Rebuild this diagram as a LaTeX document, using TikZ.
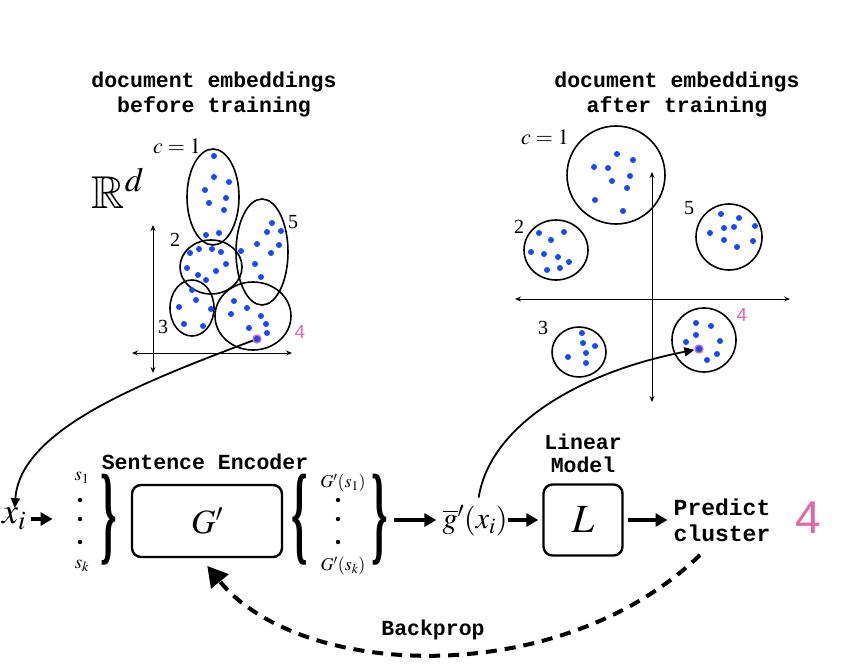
\documentclass[tikz,border=0pt]{standalone}
\usepackage{graphicx}
\usepackage{mathptmx}
\usepackage{amssymb}
\usepackage{fontspec}
\setmainfont{Liberation Serif}
\setmonofont{Liberation Mono}
\newfontfamily\helv{Liberation Sans}
\usetikzlibrary{arrows.meta}
\definecolor{dotblue}{RGB}{22,72,255}
\definecolor{clpink}{RGB}{232,100,170}
\tikzset{
  embtitle/.style={font=\fontsize{21.5}{25}\selectfont\ttfamily\bfseries, align=center},
  blob/.style={line width=1.6pt},
  ax/.style={line width=0.9pt, {Stealth[length=6pt,width=5pt]}-{Stealth[length=6pt,width=5pt]}},
  flow/.style={line width=3.2pt, -{Triangle[length=12pt,width=13pt]}},
  curvelink/.style={line width=1.8pt, -{Triangle[length=10pt,width=9pt]}},
  modelbox/.style={draw, line width=2.4pt, rounded corners=9pt},
  hit/.style={circle, draw=clpink, fill=dotblue, line width=1.3pt, minimum size=8pt, inner sep=0pt},
  sdot/.style={circle, fill=black, minimum size=4.4pt, inner sep=0pt},
  brc/.style={font=\fontsize{20}{24}\selectfont\bfseries, inner sep=0pt},
}
\newcommand{\bluedots}[1]{\foreach \px/\py in {#1} \fill[dotblue] (\px,\py) circle (3pt);}
\newcommand{\tallbrace}[1]{\scalebox{2.1}[5.5]{#1}}

\begin{document}
\begin{tikzpicture}[x=1pt,y=-1pt]
    \useasboundingbox (0,0) rectangle (842,667);
    % titles
    \node[embtitle] (titleB) at (214,94) {document embeddings\\before training};
    \node[embtitle] (titleA) at (677,94) {document embeddings\\after training};

    % before training
    \node[font=\fontsize{46}{50}\selectfont] (Rd) at (118,188) {$\mathbb{R}^d$};
    \draw[ax] (153,225) -- (153,373);
    \draw[ax] (132,353) -- (292,353);
    \draw[blob] (213,197) ellipse [x radius=26pt, y radius=48pt];
    \draw[blob] (262,252) ellipse [x radius=26pt, y radius=53pt];
    \draw[blob] (211,267) ellipse [x radius=31pt, y radius=27pt];
    \draw[blob] (192,308) ellipse [x radius=22pt, y radius=28pt];
    \draw[blob] (253,316) ellipse [x radius=38pt, y radius=34pt];
    \bluedots{214/156, 214/177, 229/182, 205/190, 226/198, 209/203, 224/210, 206/235, 219/233}
    \bluedots{190/253, 199/249, 212/249, 221/252, 187/268, 198/275, 206/280, 216/271, 226/264, 192/290}
    \bluedots{272/223, 267/232, 281/231, 257/244, 279/245, 241/251, 271/253, 255/264, 261/277}
    \bluedots{196/300, 179/307, 211/309, 184/324, 203/326}
    \bluedots{234/301, 247/308, 231/314, 261/316, 249/328, 266/324, 267/333}
    \node[font=\fontsize{22}{24}\selectfont] (cB) at (177,146) {$c=1$};
    \foreach \n/\lx/\ly in {2/175/240, 3/163/327, 5/293/222}
    \node[font=\fontsize{20}{24}\selectfont] (lblB\n) at (\lx,\ly) {\n};
    \node[font=\fontsize{19}{22}\selectfont\helv, text=clpink] (lblB4) at (300,332) {4};
    \node[hit] (hitL) at (257,339) {};

    % after training
    \draw[ax] (652,172) -- (652,402);
    \draw[ax] (515,299) -- (790,299);
    \draw[blob] (616,175) circle (49pt);
    \draw[blob] (556,250) ellipse [x radius=32pt, y radius=30pt];
    \draw[blob] (729,237) circle (33pt);
    \draw[blob] (579,352) ellipse [x radius=27pt, y radius=25pt];
    \draw[blob] (704,340) circle (32pt);
    \bluedots{617/154, 633/160, 594/167, 608/168, 630/176, 612/181, 627/188, 595/200, 623/211}
    \bluedots{539/233, 564/232, 551/240, 531/252, 544/254, 558/257, 569/262, 547/270, 560/268}
    \bluedots{721/214, 739/218, 755/226, 710/233, 724/228, 734/227, 724/240, 753/241, 737/247}
    \bluedots{582/333, 583/343, 595/346, 586/353, 568/357, 586/363}
    \bluedots{696/323, 711/326, 696/335, 686/342, 720/341, 717/354, 707/360}
    \node[font=\fontsize{22}{24}\selectfont] (cA) at (545,137) {$c=1$};
    \foreach \n/\lx/\ly in {2/519/227, 3/543/328, 5/689/208}
    \node[font=\fontsize{20}{24}\selectfont] (lblA\n) at (\lx,\ly) {\n};
    \node[font=\fontsize{19}{22}\selectfont\helv, text=clpink] (lblA4) at (742,315) {4};
    \node[hit] (hitR) at (699,349) {};

    % pipeline
    \node[font=\fontsize{36}{40}\selectfont, inner sep=0pt] (xi) at (14,519) {$x_i$};
    \node[font=\fontsize{19}{22}\selectfont, inner sep=0pt] (sone) at (82,478) {$s_1$};
    \foreach \n/\yy in {A/500, B/519, C/542}
    \node[sdot] (sdot\n) at (80,\yy) {};
    \node[font=\fontsize{19}{22}\selectfont, inner sep=0pt] (sk) at (82,566) {$s_k$};
    \node[brc] (braceS) at (109,520) {\tallbrace{\}}};
    \node[modelbox, minimum width=150pt, minimum height=72pt, font=\fontsize{34}{38}\selectfont] (encG) at (207,521) {$G'$};
    \node[embtitle] (encT) at (205,462) {Sentence Encoder};
    \node[brc] (braceL) at (300,520) {\tallbrace{\{}};
    \node[font=\fontsize{18}{22}\selectfont, inner sep=0pt] (gsone) at (343,483) {$G'(s_1)$};
    \foreach \n/\yy in {A/500, B/519, C/542}
    \node[sdot] (gdot\n) at (338,\yy) {};
    \node[font=\fontsize{18}{22}\selectfont, inner sep=0pt] (gsk) at (343,566) {$G'(s_k)$};
    \node[brc] (braceR) at (380,520) {\tallbrace{\}}};
    \node[font=\fontsize{30}{34}\selectfont, inner sep=0pt] (gbar) at (475,521) {$\overline{g}'(x_i)$};
    \node[modelbox, minimum width=79pt, minimum height=71pt, font=\fontsize{40}{44}\selectfont] (linL) at (583,520) {$L$};
    \node[embtitle, font=\fontsize{21.5}{23}\selectfont\ttfamily\bfseries] (linT) at (583,453) {Linear\\Model};
    \node[embtitle, font=\fontsize{23}{26}\selectfont\ttfamily\bfseries, inner sep=0pt] (predict) at (722,520) {Predict\\cluster};
    \node[font=\fontsize{46}{50}\selectfont\helv, text=clpink] (predfour) at (808,518) {4};

    \draw[flow, shorten <=5pt, shorten >=25pt] (xi) -- (sdotB);
    \draw[flow, shorten <=6pt, shorten >=6pt] (braceR.east |- linL.west) -- (gbar.west |- linL.west);
    \draw[flow, shorten >=4pt] (gbar.east |- linL.west) -- (linL.west);
    \draw[flow, shorten <=4pt, shorten >=6pt] (linL.east) -- (linL.east -| predict.west);

    % curved links
    \draw[curvelink] (hitL) .. controls (140,383) and (20,430) .. (xi);
    \draw[curvelink, shorten <=8pt] (gbar) .. controls (490,425) and (580,372) .. (hitR);
    \coordinate (bpstart) at (700,555);
    \draw[line width=4pt, dash pattern=on 11pt off 8pt, -{Triangle[length=20pt,width=22pt]}, shorten >=10pt]
      (bpstart) .. controls (560,690) and (300,680) .. ([xshift=-6pt]encG.south);
    \node[embtitle] (bplab) at (433,630) {Backprop};
\end{tikzpicture}
\end{document}
